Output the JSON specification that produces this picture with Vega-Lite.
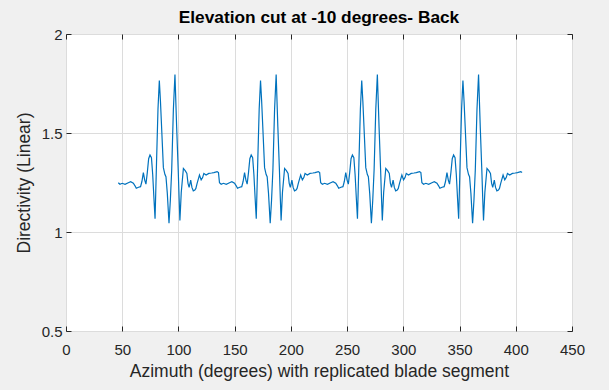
{
  "$schema": "https://vega.github.io/schema/vega-lite/v6.json",
  "autosize": "none",
  "width": 506,
  "height": 297,
  "padding": {"left": 66, "top": 34, "right": 37, "bottom": 59},
  "background": "#f0f0f0",
  "title": {"text": "Elevation cut at -10 degrees- Back", "font": "Liberation Sans", "fontSize": 17.3, "fontWeight": "bold", "color": "#000000", "offset": 1},
  "config": {
    "view": {"fill": "#ffffff", "stroke": "#262626", "strokeWidth": 1},
    "axis": {"labelFont": "Liberation Sans", "titleFont": "Liberation Sans", "labelFontSize": 15, "titleFontSize": 17.5, "titleFontWeight": "normal", "labelColor": "#262626", "titleColor": "#262626", "gridColor": "#dcdcdc", "gridWidth": 1, "domain": false, "tickColor": "#262626", "tickSize": -5, "labelFlush": false}
  },
  "data": {"values": [
    {"az":46.5,"d":1.249},{"az":48.0,"d":1.241},{"az":50.0,"d":1.246},{"az":52.5,"d":1.241},{"az":55.4,"d":1.249},{"az":57.5,"d":1.254},{"az":59.9,"d":1.246},{"az":61.5,"d":1.232},{"az":62.5,"d":1.221},{"az":64.5,"d":1.226},{"az":66.3,"d":1.229},{"az":67.5,"d":1.255},{"az":68.8,"d":1.300},{"az":70.0,"d":1.262},{"az":71.1,"d":1.242},{"az":72.3,"d":1.300},{"az":73.5,"d":1.370},{"az":74.7,"d":1.389},{"az":76.0,"d":1.375},{"az":77.1,"d":1.290},{"az":78.2,"d":1.170},{"az":79.2,"d":1.067},{"az":80.5,"d":1.350},{"az":81.8,"d":1.620},{"az":83.0,"d":1.765},{"az":84.0,"d":1.660},{"az":85.0,"d":1.532},{"az":86.6,"d":1.325},{"az":88.0,"d":1.290},{"az":88.9,"d":1.279},{"az":90.1,"d":1.195},{"az":91.6,"d":1.044},{"az":92.8,"d":1.160},{"az":94.0,"d":1.313},{"az":95.5,"d":1.620},{"az":96.9,"d":1.795},{"az":98.4,"d":1.532},{"az":99.8,"d":1.313},{"az":100.6,"d":1.170},{"az":101.3,"d":1.058},{"az":102.5,"d":1.200},{"az":104.4,"d":1.321},{"az":106.0,"d":1.310},{"az":107.5,"d":1.296},{"az":108.5,"d":1.246},{"az":109.5,"d":1.225},{"az":110.9,"d":1.262},{"az":112.0,"d":1.225},{"az":113.2,"d":1.208},{"az":114.6,"d":1.212},{"az":115.5,"d":1.220},{"az":116.6,"d":1.246},{"az":118.7,"d":1.288},{"az":120.2,"d":1.263},{"az":121.5,"d":1.275},{"az":122.6,"d":1.296},{"az":124.6,"d":1.288},{"az":127.0,"d":1.296},{"az":129.5,"d":1.298},{"az":131.5,"d":1.300},{"az":134.4,"d":1.305},{"az":135.6,"d":1.300},
    {"az":136.5,"d":1.249},{"az":138.0,"d":1.241},{"az":140.0,"d":1.246},{"az":142.5,"d":1.241},{"az":145.4,"d":1.249},{"az":147.5,"d":1.254},{"az":149.9,"d":1.246},{"az":151.5,"d":1.232},{"az":152.5,"d":1.221},{"az":154.5,"d":1.226},{"az":156.3,"d":1.229},{"az":157.5,"d":1.255},{"az":158.8,"d":1.300},{"az":160.0,"d":1.262},{"az":161.1,"d":1.242},{"az":162.3,"d":1.300},{"az":163.5,"d":1.370},{"az":164.7,"d":1.389},{"az":166.0,"d":1.375},{"az":167.1,"d":1.290},{"az":168.2,"d":1.170},{"az":169.2,"d":1.067},{"az":170.5,"d":1.350},{"az":171.8,"d":1.620},{"az":173.0,"d":1.765},{"az":174.0,"d":1.660},{"az":175.0,"d":1.532},{"az":176.6,"d":1.325},{"az":178.0,"d":1.290},{"az":178.9,"d":1.279},{"az":180.1,"d":1.195},{"az":181.6,"d":1.044},{"az":182.8,"d":1.160},{"az":184.0,"d":1.313},{"az":185.5,"d":1.620},{"az":186.9,"d":1.795},{"az":188.4,"d":1.532},{"az":189.8,"d":1.313},{"az":190.6,"d":1.170},{"az":191.3,"d":1.058},{"az":192.5,"d":1.200},{"az":194.4,"d":1.321},{"az":196.0,"d":1.310},{"az":197.5,"d":1.296},{"az":198.5,"d":1.246},{"az":199.5,"d":1.225},{"az":200.9,"d":1.262},{"az":202.0,"d":1.225},{"az":203.2,"d":1.208},{"az":204.6,"d":1.212},{"az":205.5,"d":1.220},{"az":206.6,"d":1.246},{"az":208.7,"d":1.288},{"az":210.2,"d":1.263},{"az":211.5,"d":1.275},{"az":212.6,"d":1.296},{"az":214.6,"d":1.288},{"az":217.0,"d":1.296},{"az":219.5,"d":1.298},{"az":221.5,"d":1.300},{"az":224.4,"d":1.305},{"az":225.6,"d":1.300},
    {"az":226.5,"d":1.249},{"az":228.0,"d":1.241},{"az":230.0,"d":1.246},{"az":232.5,"d":1.241},{"az":235.4,"d":1.249},{"az":237.5,"d":1.254},{"az":239.9,"d":1.246},{"az":241.5,"d":1.232},{"az":242.5,"d":1.221},{"az":244.5,"d":1.226},{"az":246.3,"d":1.229},{"az":247.5,"d":1.255},{"az":248.8,"d":1.300},{"az":250.0,"d":1.262},{"az":251.1,"d":1.242},{"az":252.3,"d":1.300},{"az":253.5,"d":1.370},{"az":254.7,"d":1.389},{"az":256.0,"d":1.375},{"az":257.1,"d":1.290},{"az":258.2,"d":1.170},{"az":259.2,"d":1.067},{"az":260.5,"d":1.350},{"az":261.8,"d":1.620},{"az":263.0,"d":1.765},{"az":264.0,"d":1.660},{"az":265.0,"d":1.532},{"az":266.6,"d":1.325},{"az":268.0,"d":1.290},{"az":268.9,"d":1.279},{"az":270.1,"d":1.195},{"az":271.6,"d":1.044},{"az":272.8,"d":1.160},{"az":274.0,"d":1.313},{"az":275.5,"d":1.620},{"az":276.9,"d":1.795},{"az":278.4,"d":1.532},{"az":279.8,"d":1.313},{"az":280.6,"d":1.170},{"az":281.3,"d":1.058},{"az":282.5,"d":1.200},{"az":284.4,"d":1.321},{"az":286.0,"d":1.310},{"az":287.5,"d":1.296},{"az":288.5,"d":1.246},{"az":289.5,"d":1.225},{"az":290.9,"d":1.262},{"az":292.0,"d":1.225},{"az":293.2,"d":1.208},{"az":294.6,"d":1.212},{"az":295.5,"d":1.220},{"az":296.6,"d":1.246},{"az":298.7,"d":1.288},{"az":300.2,"d":1.263},{"az":301.5,"d":1.275},{"az":302.6,"d":1.296},{"az":304.6,"d":1.288},{"az":307.0,"d":1.296},{"az":309.5,"d":1.298},{"az":311.5,"d":1.300},{"az":314.4,"d":1.305},{"az":315.6,"d":1.300},
    {"az":316.5,"d":1.249},{"az":318.0,"d":1.241},{"az":320.0,"d":1.246},{"az":322.5,"d":1.241},{"az":325.4,"d":1.249},{"az":327.5,"d":1.254},{"az":329.9,"d":1.246},{"az":331.5,"d":1.232},{"az":332.5,"d":1.221},{"az":334.5,"d":1.226},{"az":336.3,"d":1.229},{"az":337.5,"d":1.255},{"az":338.8,"d":1.300},{"az":340.0,"d":1.262},{"az":341.1,"d":1.242},{"az":342.3,"d":1.300},{"az":343.5,"d":1.370},{"az":344.7,"d":1.389},{"az":346.0,"d":1.375},{"az":347.1,"d":1.290},{"az":348.2,"d":1.170},{"az":349.2,"d":1.067},{"az":350.5,"d":1.350},{"az":351.8,"d":1.620},{"az":353.0,"d":1.765},{"az":354.0,"d":1.660},{"az":355.0,"d":1.532},{"az":356.6,"d":1.325},{"az":358.0,"d":1.290},{"az":358.9,"d":1.279},{"az":360.1,"d":1.195},{"az":361.6,"d":1.044},{"az":362.8,"d":1.160},{"az":364.0,"d":1.313},{"az":365.5,"d":1.620},{"az":366.9,"d":1.795},{"az":368.4,"d":1.532},{"az":369.8,"d":1.313},{"az":370.6,"d":1.170},{"az":371.3,"d":1.058},{"az":372.5,"d":1.200},{"az":374.4,"d":1.321},{"az":376.0,"d":1.310},{"az":377.5,"d":1.296},{"az":378.5,"d":1.246},{"az":379.5,"d":1.225},{"az":380.9,"d":1.262},{"az":382.0,"d":1.225},{"az":383.2,"d":1.208},{"az":384.6,"d":1.212},{"az":385.5,"d":1.220},{"az":386.6,"d":1.246},{"az":388.7,"d":1.288},{"az":390.2,"d":1.263},{"az":391.5,"d":1.275},{"az":392.6,"d":1.296},{"az":394.6,"d":1.288},{"az":397.0,"d":1.296},{"az":399.5,"d":1.298},{"az":401.5,"d":1.300},{"az":404.4,"d":1.305},{"az":405.6,"d":1.300}
  ]},
  "layer": [
    {
      "mark": {"type": "line", "color": "#0072BD", "strokeWidth": 1.2, "interpolate": "linear"},
      "encoding": {
        "x": {"field": "az", "type": "quantitative", "scale": {"domain": [0, 450], "nice": false, "zero": false},
          "axis": {"orient": "bottom", "values": [0,50,100,150,200,250,300,350,400,450], "title": "Azimuth (degrees) with replicated blade segment", "labelPadding": 16, "titlePadding": 5, "grid": true}},
        "y": {"field": "d", "type": "quantitative", "scale": {"domain": [0.5, 2], "nice": false, "zero": false},
          "axis": {"orient": "left", "values": [0.5, 1, 1.5, 2], "format": "~g", "title": "Directivity (Linear)", "labelPadding": 9, "titlePadding": 8, "grid": true}}
      }
    },
    {
      "mark": {"type": "line", "strokeOpacity": 0},
      "encoding": {
        "x": {"field": "az", "type": "quantitative", "axis": {"orient": "top", "values": [0,50,100,150,200,250,300,350,400,450], "labels": false, "title": null, "grid": false}},
        "y": {"field": "d", "type": "quantitative", "axis": {"orient": "right", "values": [0.5, 1, 1.5, 2], "labels": false, "title": null, "grid": false}}
      }
    }
  ],
  "resolve": {"axis": {"x": "independent", "y": "independent"}}
}
